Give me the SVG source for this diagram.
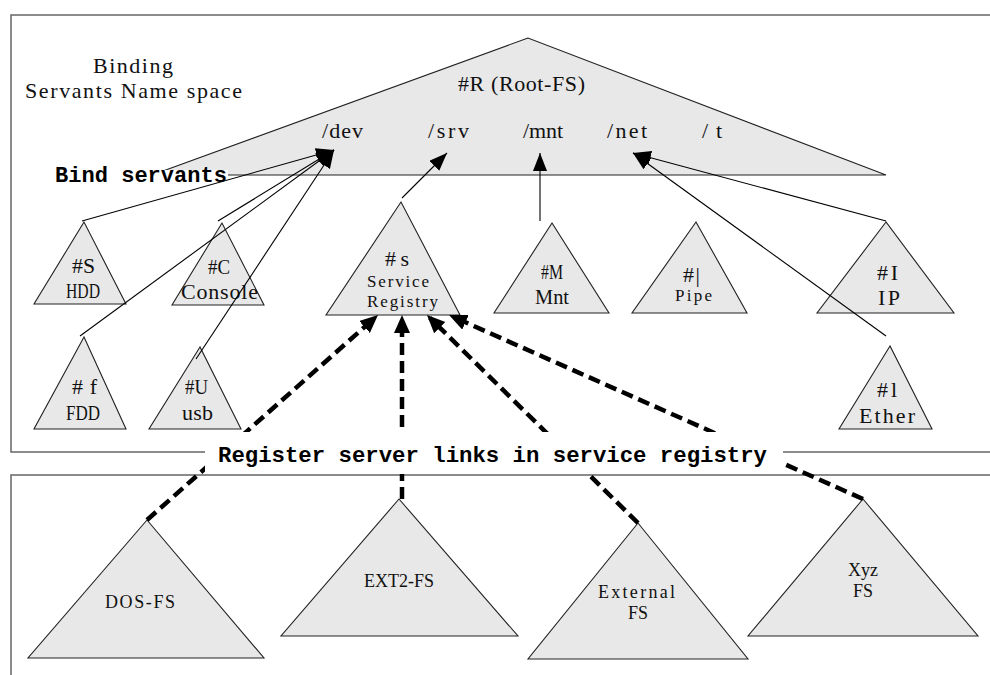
<svg xmlns="http://www.w3.org/2000/svg" width="990" height="675" viewBox="0 0 990 675">
<style>
.frame{fill:none;stroke:#666;stroke-width:1.5}
.tri{fill:#e8e8e8;stroke:#222;stroke-width:1.1}
.lbl{font-family:"Liberation Serif","DejaVu Serif",serif;fill:#111;font-size:22px}
.sm{font-size:17px}
.bt{font-size:18px}
.bold{font-family:"Liberation Mono","DejaVu Sans Mono",monospace;font-weight:bold;font-size:22px;fill:#000}
.link{fill:none;stroke:#000;stroke-width:1.1}
.reg{fill:none;stroke:#000;stroke-width:4.5;stroke-dasharray:12 6}
</style>
<defs>
<marker id="ah" markerUnits="userSpaceOnUse" markerWidth="20" markerHeight="16" refX="18" refY="7" orient="auto">
<path d="M0,0 L18,7 L0,14 z" fill="#000"/>
</marker>
<marker id="ahd" markerUnits="userSpaceOnUse" markerWidth="20" markerHeight="18" refX="14" refY="8" orient="auto">
<path d="M0,0 L18,8 L0,16 z" fill="#000"/>
</marker>
</defs>
<rect width="990" height="675" fill="#fff"/>
<g id="frames">
<rect class="frame" x="11" y="15" width="1000" height="437"/>
<rect class="frame" x="11" y="475" width="1000" height="220"/>
</g>
<g id="title">
<text class="lbl" x="93" y="73" textLength="80" lengthAdjust="spacing">Binding</text>
<text class="lbl" x="25" y="98" textLength="217" lengthAdjust="spacing">Servants Name space</text>
</g>
<g id="root">
<polygon class="tri" points="528,38 152,175 886,175"/>
<text class="lbl" x="458" y="91" font-size="21" textLength="127" lengthAdjust="spacing">#R (Root-FS)</text>
<text class="lbl" x="322" y="138" font-size="20" textLength="41" lengthAdjust="spacing">/dev</text>
<text class="lbl" x="428" y="138" font-size="20" textLength="41" lengthAdjust="spacing">/srv</text>
<text class="lbl" x="523" y="138" font-size="20" textLength="40" lengthAdjust="spacing">/mnt</text>
<text class="lbl" x="607" y="138" font-size="20" textLength="40" lengthAdjust="spacing">/net</text>
<text class="lbl" x="702" y="138" font-size="20" textLength="20" lengthAdjust="spacing">/t</text>
</g>
<g id="bind-label">
<rect x="50" y="170" width="178" height="19" fill="#fff"/>
<text class="bold" x="55" y="182" textLength="172" lengthAdjust="spacingAndGlyphs">Bind servants</text>
</g>
<g id="node-S">
<polygon class="tri" points="84,222 34,304 126,304"/>
<text class="lbl" x="72" y="273" textLength="23" lengthAdjust="spacingAndGlyphs">#S</text>
<text class="lbl" x="66" y="298" textLength="34" lengthAdjust="spacingAndGlyphs">HDD</text>
</g>
<g id="node-C">
<polygon class="tri" points="222,223 172,305 264,305"/>
<text class="lbl" x="208" y="274" textLength="22" lengthAdjust="spacingAndGlyphs">#C</text>
<text class="lbl" x="181" y="299" textLength="77" lengthAdjust="spacing">Console</text>
</g>
<g id="node-f">
<polygon class="tri" points="84,337 34,429 126,429"/>
<text class="lbl" x="72" y="394" textLength="25" lengthAdjust="spacing">#f</text>
<text class="lbl" x="66" y="420" textLength="34" lengthAdjust="spacingAndGlyphs">FDD</text>
</g>
<g id="node-U">
<polygon class="tri" points="200,347 149,429 241,429"/>
<text class="lbl" x="185" y="394" textLength="23" lengthAdjust="spacingAndGlyphs">#U</text>
<text class="lbl" x="182" y="420" textLength="31" lengthAdjust="spacing">usb</text>
</g>
<g id="node-s">
<polygon class="tri" points="401,202 326,315 460,315"/>
<text class="lbl" x="385" y="266" textLength="24" lengthAdjust="spacing">#s</text>
<text class="lbl sm" x="367" y="287" textLength="62" lengthAdjust="spacing">Service</text>
<text class="lbl sm" x="367" y="307" textLength="71" lengthAdjust="spacing">Registry</text>
</g>
<g id="node-M">
<polygon class="tri" points="552,223 494,313 609,313"/>
<text class="lbl" x="541" y="279" textLength="22" lengthAdjust="spacingAndGlyphs">#M</text>
<text class="lbl" x="535" y="304" textLength="34" lengthAdjust="spacingAndGlyphs">Mnt</text>
</g>
<g id="node-pipe">
<polygon class="tri" points="696,222 632,313 747,313"/>
<text class="lbl" x="683" y="282" font-size="20" textLength="17" lengthAdjust="spacing">#|</text>
<text class="lbl sm" x="675" y="301" textLength="37" lengthAdjust="spacing">Pipe</text>
</g>
<g id="node-I">
<polygon class="tri" points="886,222 817,313 954,313"/>
<text class="lbl" x="877" y="280" textLength="21" lengthAdjust="spacing">#I</text>
<text class="lbl" x="878" y="305" textLength="22" lengthAdjust="spacing">IP</text>
</g>
<g id="node-l">
<polygon class="tri" points="890,346 839,429 932,429"/>
<text class="lbl" x="877" y="397" textLength="20" lengthAdjust="spacing">#l</text>
<text class="lbl" x="859" y="423" textLength="56" lengthAdjust="spacing">Ether</text>
</g>
<g id="node-dos">
<polygon class="tri" points="147,520 28,658 264,658"/>
<text class="lbl bt" x="105" y="608" textLength="70" lengthAdjust="spacing">DOS-FS</text>
</g>
<g id="node-ext2">
<polygon class="tri" points="399,499 281,636 518,636"/>
<text class="lbl bt" x="364" y="587" textLength="70" lengthAdjust="spacingAndGlyphs">EXT2-FS</text>
</g>
<g id="node-external">
<polygon class="tri" points="638,523 528,659 748,659"/>
<text class="lbl bt" x="598" y="598" textLength="77" lengthAdjust="spacing">External</text>
<text class="lbl bt" x="628" y="619" textLength="20" lengthAdjust="spacingAndGlyphs">FS</text>
</g>
<g id="node-xyz">
<polygon class="tri" points="863,499 748,636 978,636"/>
<text class="lbl bt" x="848" y="576" textLength="30" lengthAdjust="spacingAndGlyphs">Xyz</text>
<text class="lbl bt" x="853" y="597" textLength="20" lengthAdjust="spacingAndGlyphs">FS</text>
</g>
<g id="connectors">
<line class="link" x1="82" y1="221" x2="334" y2="150" marker-end="url(#ah)"/>
<line class="link" x1="218" y1="221" x2="334" y2="150" marker-end="url(#ah)"/>
<line class="link" x1="80" y1="336" x2="334" y2="150" marker-end="url(#ah)"/>
<line class="link" x1="196" y1="359" x2="334" y2="150" marker-end="url(#ah)"/>
<line class="link" x1="402" y1="198" x2="447" y2="153" marker-end="url(#ah)"/>
<line class="link" x1="540" y1="221" x2="540" y2="153" marker-end="url(#ah)"/>
<line class="link" x1="886" y1="221" x2="633" y2="153" marker-end="url(#ah)"/>
<line class="link" x1="886" y1="336" x2="633" y2="153" marker-end="url(#ah)"/>
<line class="reg" x1="147" y1="520" x2="375" y2="317.7" marker-end="url(#ahd)"/>
<line class="reg" x1="402" y1="499" x2="402" y2="319" marker-end="url(#ahd)"/>
<line class="reg" x1="638" y1="523" x2="429.8" y2="317.8" marker-end="url(#ahd)"/>
<line class="reg" x1="863" y1="499" x2="452.7" y2="316.6" marker-end="url(#ahd)"/>
</g>
<g id="register-label">
<rect x="205" y="432" width="578" height="42" fill="#fff"/>
<text class="bold" x="218" y="462" textLength="549" lengthAdjust="spacingAndGlyphs">Register server links in service registry</text>
</g>
</svg>
